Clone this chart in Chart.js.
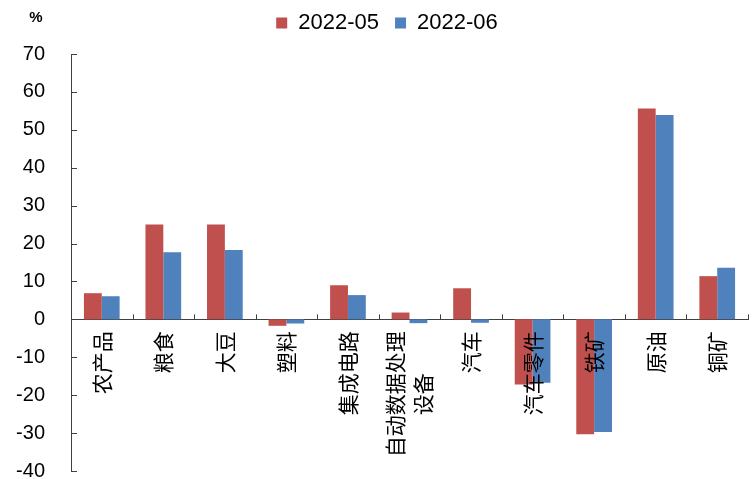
<!DOCTYPE html>
<html>
<head>
<meta charset="utf-8">
<script src="https://cdn.jsdelivr.net/npm/chart.js@4/dist/chart.umd.min.js"></script>
<style>
  html, body { margin: 0; padding: 0; background: #fff; }
  #wrap { width: 752px; height: 479px; position: relative; }
</style>
</head>
<body>
<div id="wrap"><canvas id="c"></canvas></div>
<script>
// Product categories (multi-part names are split into columns)
const categories = ['农产品', '粮食', '大豆', '塑料', '集成电路', ['自动数据处理', '设备'], '汽车', '汽车零件', '铁矿', '原油', '铜矿'];
// Year-on-year change, %
const seriesNames = ['2022-05', '2022-06'];
const may2022 = [6.9, 25.0, 25.0, -1.7, 9.0, 1.8, 8.2, -17.2, -30.3, 55.6, 11.4];
const jun2022 = [6.1, 17.7, 18.3, -1.1, 6.4, -1.0, -0.9, -16.7, -29.7, 53.9, 13.6];
// Value axis
const yMin = -40, yMax = 70, yStep = 10;
const unitLabel = '%';

const AXIS_COLOR = '#404040';
const LATIN = '"Liberation Sans", Arial, sans-serif';
const CJK = '"Noto Sans CJK SC", sans-serif';
const AXIS_X = 71;

// Short tick marks pointing into the plot, plus the unit label
const axisMarks = {
  id: 'axisMarks',
  afterDatasetsDraw(chart) {
    const { ctx, scales: { x, y } } = chart;
    const y0 = y.getPixelForValue(0);
    ctx.save();
    ctx.strokeStyle = AXIS_COLOR;
    ctx.lineWidth = 1;
    ctx.beginPath();
    for (let i = 1; i <= categories.length; i++) {
      const px = Math.round(x.getPixelForValue(i - 0.5)) + 0.5;
      ctx.moveTo(px, y0);
      ctx.lineTo(px, y0 - 5);
    }
    for (let v = yMin; v <= yMax; v += yStep) {
      const py = Math.round(y.getPixelForValue(v)) + 0.5;
      ctx.moveTo(y.right, py);
      ctx.lineTo(y.right + 6, py);
    }
    ctx.stroke();
    ctx.fillStyle = '#000';
    ctx.font = 'bold 15px ' + LATIN;
    ctx.textAlign = 'center';
    ctx.textBaseline = 'middle';
    ctx.fillText(unitLabel, 36, 18);
    ctx.restore();
  }
};

// Category names written bottom-to-top just under the zero line
const categoryLabels = {
  id: 'categoryLabels',
  afterDraw(chart) {
    const { ctx, scales: { x, y } } = chart;
    const top = y.getPixelForValue(0) + 12;
    const colGap = 28;
    ctx.save();
    ctx.font = '21px ' + CJK;
    ctx.fillStyle = '#000';
    ctx.textAlign = 'center';
    ctx.textBaseline = 'middle';
    categories.forEach((lab, i) => {
      const lines = Array.isArray(lab) ? lab : [lab];
      const w = Math.max(...lines.map(l => ctx.measureText(l).width));
      const cx = x.getPixelForTick(i);
      lines.forEach((l, j) => {
        const lx = cx + (j - (lines.length - 1) / 2) * colGap;
        ctx.save();
        ctx.translate(lx, top + w / 2);
        ctx.rotate(-Math.PI / 2);
        ctx.fillText(l, 0, 0);
        ctx.restore();
      });
    });
    ctx.restore();
  }
};

// Nudge the legend block up and to the right after layout
const legendOffset = {
  id: 'legendOffset',
  afterLayout(chart) {
    const lg = chart.legend;
    if (!lg) return;
    lg.left += 13; lg.right += 13;
    lg.top -= 10; lg.bottom -= 10;
  }
};

new Chart(document.getElementById('c'), {
  type: 'bar',
  data: {
    labels: categories,
    datasets: [
      { label: seriesNames[0], data: may2022, backgroundColor: '#C0504D' },
      { label: seriesNames[1], data: jun2022, backgroundColor: '#4F81BD' }
    ]
  },
  options: {
    responsive: true,
    maintainAspectRatio: false,
    animation: false,
    datasets: { bar: { categoryPercentage: 0.58, barPercentage: 1.0, borderWidth: 0 } },
    layout: { padding: { top: 1, right: 4, bottom: 8, left: 0 } },
    plugins: {
      legend: {
        position: 'top',
        labels: {
          boxWidth: 11, boxHeight: 11, padding: 10,
          color: '#000',
          font: { family: LATIN, size: 22 },
          generateLabels(chart) {
            const items = Chart.defaults.plugins.legend.labels.generateLabels(chart);
            // widen every entry but the last so the entries sit further apart
            items.forEach((it, i) => { if (i < items.length - 1) it.text += ' '; });
            return items;
          }
        }
      },
      tooltip: { enabled: false }
    },
    scales: {
      x: {
        position: { y: 0 },
        grid: { display: false },
        border: { display: true, color: AXIS_COLOR, width: 1 },
        ticks: { display: false }
      },
      y: {
        min: yMin, max: yMax,
        grid: { display: false, drawTicks: false },
        border: { display: true, color: AXIS_COLOR, width: 1 },
        ticks: {
          stepSize: yStep, padding: 26, color: '#000',
          font: { family: LATIN, size: 20 }
        },
        afterFit(scale) {
          scale.width = AXIS_X;
          scale.paddingTop = 54;
          scale.paddingBottom = 0;
        }
      }
    }
  },
  plugins: [axisMarks, categoryLabels, legendOffset]
});
</script>
</body>
</html>
